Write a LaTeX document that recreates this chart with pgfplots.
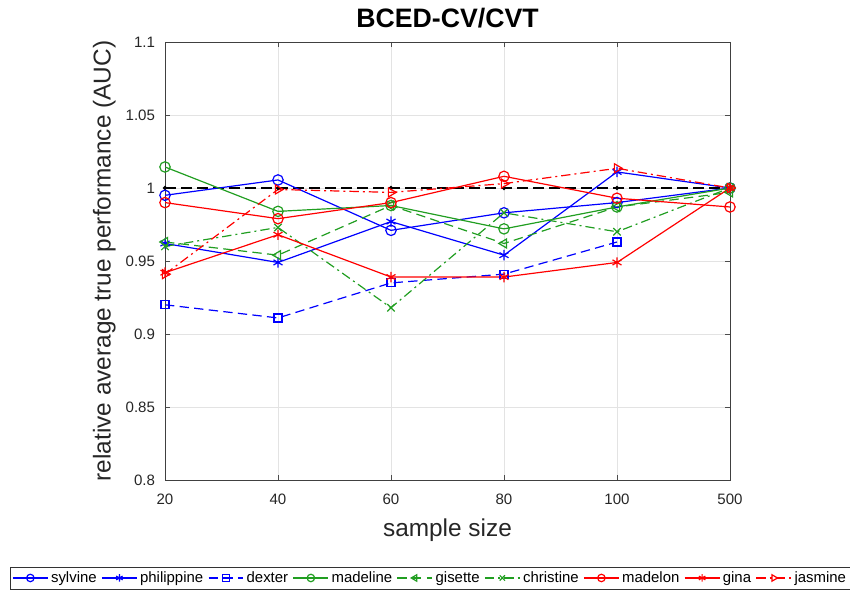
\documentclass[border=0pt]{standalone}
\usepackage{pgfplots}
\pgfplotsset{compat=1.18}
\usepackage{fontspec}
\setmainfont{Liberation Sans}
\setsansfont{Liberation Sans}
\definecolor{mblue}{rgb}{0,0,1}
\definecolor{mgreen}{rgb}{0.13,0.62,0.13}
\definecolor{mred}{rgb}{1,0,0}
\begin{document}
\begin{tikzpicture}[x=0.75pt,y=0.75pt]
\useasboundingbox (0,0) rectangle (850,592);
\begin{axis}[
  at={(123.75pt,84pt)}, anchor=south west,
  scale only axis, width=423.75pt, height=328.5pt,
  xmin=0, xmax=5, ymin=0.8, ymax=1.1,
  xtick={0,1,2,3,4,5}, xticklabels={20,40,60,80,100,500},
  ytick={0.8,0.85,0.9,0.95,1,1.05,1.1},
  yticklabels={0.8,0.85,0.9,0.95,1,1.05,1.1},
  tick align=inside, tick style={black!70, line width=0.5pt},
  major tick length=4pt,
  grid=major, grid style={gray!22, line width=0.5pt},
  axis line style={black!75, line width=0.6pt},
  tick label style={font=\fontsize{11.3}{12}\selectfont, text=black!85},
  xticklabel style={yshift=-7pt},
  yticklabel style={xshift=-4pt},
  title={\textbf{BCED-CV/CVT}},
  title style={font=\fontsize{20}{22}\selectfont, yshift=1pt},
  xlabel={sample size}, ylabel={relative average true performance (AUC)},
  label style={font=\fontsize{18.3}{20}\selectfont, text=black!85},
  xlabel style={yshift=-4pt}, ylabel style={yshift=0.5pt},
  every axis plot/.append style={line width=0.9pt, mark size=3.9pt},
  legend columns=-1,
  legend style={at={(-0.2743,-0.2237)}, anchor=west, draw=black!80,
    font=\fontsize{11.2}{12}\selectfont, inner sep=1.5pt,
    /tikz/every even column/.append style={column sep=1.5pt}},
  legend image code/.code={
    \draw[mark size=2.8pt, mark repeat=2,mark phase=2] plot coordinates {(0cm,0cm) (0.46cm,0cm) (0.92cm,0cm)};},
]
\addplot[black, dashed, dash pattern=on 8pt off 4pt, line width=1.1pt, mark=*, mark size=1pt, forget plot]
  coordinates {(0,1)(1,1)(2,1)(3,1)(4,1)(5,1)};
\addplot[mblue, mark=o] coordinates {(0,0.995)(1,1.0055)(2,0.971)(3,0.983)(4,0.990)(5,1.0)};
\addlegendentry{sylvine}
\addplot[mblue, mark=asterisk] coordinates {(0,0.962)(1,0.949)(2,0.977)(3,0.954)(4,1.011)(5,1.0)};
\addlegendentry{philippine}
\addplot[mblue, mark=square, mark size=3pt, dash pattern=on 7pt off 4pt, mark options={solid}] coordinates {(0,0.920)(1,0.911)(2,0.935)(3,0.941)(4,0.963)};
\addlegendentry{dexter}
\addplot[mgreen, mark=o] coordinates {(0,1.0144)(1,0.984)(2,0.988)(3,0.972)(4,0.987)(5,1.0)};
\addlegendentry{madeline}
\addplot[mgreen, mark=triangle, mark options={rotate=90, solid}, dash pattern=on 7pt off 4pt] coordinates {(0,0.963)(1,0.954)(2,0.988)(3,0.962)(4,0.987)(5,0.997)};
\addlegendentry{gisette}
\addplot[mgreen, mark=x, mark options={solid}, dash pattern=on 7pt off 3pt on 1.5pt off 3pt] coordinates {(0,0.960)(1,0.973)(2,0.918)(3,0.983)(4,0.970)(5,1.0)};
\addlegendentry{christine}
\addplot[mred, mark=o] coordinates {(0,0.990)(1,0.979)(2,0.990)(3,1.008)(4,0.993)(5,0.987)};
\addlegendentry{madelon}
\addplot[mred, mark=asterisk] coordinates {(0,0.942)(1,0.968)(2,0.939)(3,0.939)(4,0.949)(5,1.0)};
\addlegendentry{gina}
\addplot[mred, mark=triangle, mark options={rotate=-90, solid}, dash pattern=on 7pt off 3pt on 1.5pt off 3pt] coordinates {(0,0.941)(1,0.999)(2,0.997)(3,1.003)(4,1.0135)(5,1.0)};
\addlegendentry{jasmine}
\end{axis}
\end{tikzpicture}
\end{document}
